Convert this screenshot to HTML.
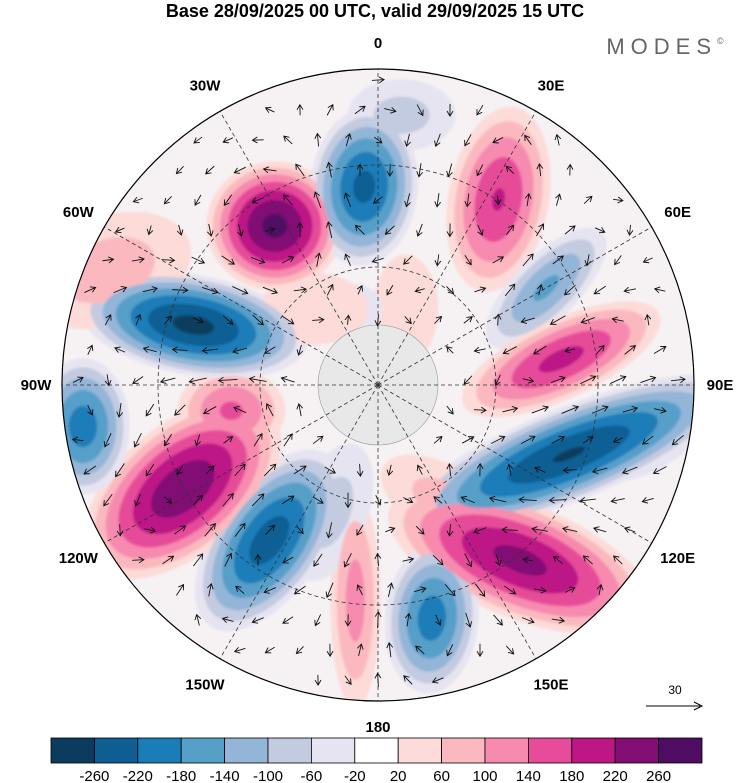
<!DOCTYPE html>
<html><head><meta charset="utf-8">
<style>
body{margin:0;background:#fff;width:750px;height:783px;overflow:hidden;font-family:"Liberation Sans",sans-serif;}
svg{position:absolute;left:0;top:0}
</style></head>
<body>
<svg id="chart" width="750" height="783" viewBox="0 0 750 783">
<defs>
<clipPath id="disk"><circle cx="378" cy="385" r="316"/></clipPath>
<filter id="soft"><feGaussianBlur stdDeviation="1.2"/></filter>
</defs>
<text x="375" y="17" text-anchor="middle" font-size="18" font-weight="bold">Base 28/09/2025 00 UTC, valid 29/09/2025 15 UTC</text>
<text x="668" y="54" text-anchor="middle" font-size="22" fill="#666" letter-spacing="6">MODES<tspan font-size="9" dy="-10">©</tspan></text>
<g id="field" clip-path="url(#disk)"></g>
<g id="grid" clip-path="url(#disk)"></g>
<g id="arrows" clip-path="url(#disk)"></g>
<circle cx="378" cy="385" r="316" fill="none" stroke="#000" stroke-width="1.2"/>
<g id="lonlabels" font-size="15" font-weight="bold" text-anchor="middle"></g>
<g>
<text x="675" y="694" font-size="12" text-anchor="middle">30</text>
<line x1="646" y1="706" x2="700" y2="706" stroke="#000" stroke-width="1"/>
<path d="M694,702 L702,706 L694,710" fill="none" stroke="#000"/>
</g>
<g id="colorbar"></g>
</svg>
<script>
const blobLon   = [-33, -4, 33, 60, 82, 110, 141, 167, -174, -145, -118, -100, -72, -98, -67, 5, 20, -20, 150, -40, 100, -160];
const blobLat   = [48, 46, 41, 47, 49, 45, 40, 37, 42, 48, 41, 57, 47, 24, 25, 30, 72, 72, 60, 68, 30, 60];
const blobAmp   = [275, -235, 185, -150, 195, -265, 235, -205, 120, -245, 255, 150, -275, -205, 85, -80, 50, -40, 80, 60, -70, -80];
const blobSx    = [38, 30, 28, 18, 60, 100, 78, 26, 14, 30, 65, 30, 64, 26, 48, 30, 18, 18, 40, 30, 40, 20];
const blobSy    = [36, 44, 52, 44, 22, 26, 32, 42, 60, 58, 36, 24, 28, 38, 30, 20, 30, 14, 20, 20, 22, 40];
const blobRot   = [0, 5, 10, 45, -25, -22, 22, 5, 0, 35, -40, 0, 10, 0, -20, 0, 0, 0, 30, 0, -30, 20];
const levels    = [20, 60, 100, 140, 180, 220, 260];
const posColors = ["#fddbd8","#fbb9bf","#f78aaf","#e64c99","#bd1786","#820e75","#4f0c63"];
const negColors = ["#e6e4f0","#c3cbe0","#93b5d8","#569fc9","#1a7db8","#0e5e94","#0b3c5d"];
const cbLabels  = [-260,-220,-180,-140,-100,-60,-20,20,60,100,140,180,220,260];
const cbColors  = ["#0b3c5d","#0e5e94","#1a7db8","#569fc9","#93b5d8","#c3cbe0","#e6e4f0","#ffffff","#fddbd8","#fbb9bf","#f78aaf","#e64c99","#bd1786","#820e75","#4f0c63"];
const lonTicks  = ["0","30E","60E","90E","120E","150E","180","150W","120W","90W","60W","30W"];

const NS="http://www.w3.org/2000/svg", CX=378, CY=385, R=316, EDGE_COLAT=70;
function mk(t,a,p){const e=document.createElementNS(NS,t);for(const k in a)e.setAttribute(k,a[k]);p.appendChild(e);return e;}
function proj(lon,lat){const rho=(90-lat)/EDGE_COLAT*R, a=lon*Math.PI/180;return [CX+rho*Math.sin(a), CY-rho*Math.cos(a)];}

const field=document.getElementById('field');
mk('circle',{cx:CX,cy:CY,r:R,fill:'#f6f2f4'},field);
const fg=mk('g',{filter:'url(#soft)'},field);
for(let li=0;li<levels.length;li++){
  for(let i=0;i<blobAmp.length;i++){
    const A=Math.abs(blobAmp[i]);
    if(A<=levels[li]) continue;
    const f=Math.pow(1-levels[li]/A,0.6)/Math.pow(1-20/A,0.6);
    const [x,y]=proj(blobLon[i],blobLat[i]);
    const e=mk('ellipse',{cx:x,cy:y,rx:blobSx[i]*f*1.8,ry:blobSy[i]*f*1.8,
      transform:`rotate(${blobRot[i]} ${x} ${y})`,fill:(blobAmp[i]>0?posColors:negColors)[li]},fg);
    
    
  }
}
const cap=mk('circle',{cx:CX,cy:CY,r:60,fill:'#e8e8e8',stroke:'#999','stroke-width':0.6},field);



const grid=document.getElementById('grid');
[118,220].forEach(r=>mk('circle',{cx:CX,cy:CY,r:r,fill:'none',stroke:'#333','stroke-width':0.8,'stroke-dasharray':'4 3'},grid));
for(let k=0;k<12;k++){const a=k*30*Math.PI/180;
  mk('line',{x1:CX,y1:CY,x2:CX+R*Math.sin(a),y2:CY-R*Math.cos(a),stroke:'#333','stroke-width':0.8,'stroke-dasharray':'4 3'},grid);}

function val(x,y){let s=0;for(let i=0;i<blobAmp.length;i++){const [bx,by]=proj(blobLon[i],blobLat[i]);
  const t=-blobRot[i]*Math.PI/180,dx=x-bx,dy=y-by,u=dx*Math.cos(t)-dy*Math.sin(t),v=dx*Math.sin(t)+dy*Math.cos(t);
  const sx=blobSx[i]*1.3,sy=blobSy[i]*1.3;s+=blobAmp[i]*Math.exp(-(u*u/(sx*sx)+v*v/(sy*sy))/2);}return s;}
const ag=document.getElementById('arrows');
for(let y=80;y<700;y+=30){for(let x=70;x<700;x+=30){
  const xx=x+((y/30)%2)*12, d=Math.hypot(xx-CX,y-CY); if(d>305||d<65) continue;
  const gx=val(xx+2,y)-val(xx-2,y), gy=val(xx,y+2)-val(xx,y-2);
  let u=-gy,v=gx; const m=Math.hypot(u,v)||1; const L=Math.min(24,9+m*0.3);
  u/=m;v/=m; const x2=xx+u*L,y2=y+v*L;
  const p=mk('path',{d:`M${xx-u*L/2},${y-v*L/2} L${x2-u*L/2},${y2-v*L/2} M${x2-u*L/2-u*5-v*3},${y2-v*L/2-v*5+u*3} L${x2-u*L/2},${y2-v*L/2} L${x2-u*L/2-u*5+v*3},${y2-v*L/2-v*5-u*3}`,fill:'none',stroke:'#111','stroke-width':0.9},ag);
  
  
}}

const ll=document.getElementById('lonlabels');
for(let k=0;k<12;k++){const a=k*30*Math.PI/180, rr=R+(k%3===0?26:30);
  const t=mk('text',{x:CX+rr*Math.sin(a),y:CY-rr*Math.cos(a)+5},ll);t.textContent=lonTicks[k];
  
  }

const cb=document.getElementById('colorbar'), x0=51, x1=702, w=(x1-x0)/cbColors.length;
cbColors.forEach((c,i)=>{const r=mk('rect',{x:x0+i*w,y:738,width:w,height:25,fill:c,stroke:'#000','stroke-width':0.8},cb);
  
  });
cbLabels.forEach((l,i)=>{const t=mk('text',{x:x0+(i+1)*w,y:781,'font-size':15,'text-anchor':'middle'},cb);t.textContent=l;
  
  });
</script>
</body></html>
